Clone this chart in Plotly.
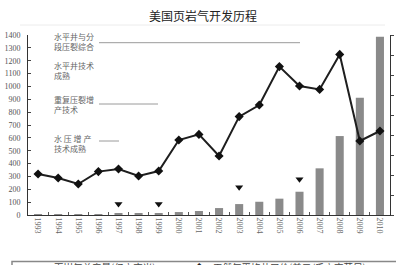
import plotly.graph_objects as go

years = [str(y) for y in range(1993, 2011)]
shale_output = [4, 5, 6, 7, 8, 9, 11, 23, 31, 54, 85, 103, 127, 181, 363, 614, 912, 1387]
gas_price = [2.05, 1.85, 1.55, 2.17, 2.30, 1.95, 2.20, 3.75, 4.03, 2.95, 4.92, 5.50, 7.42, 6.45, 6.28, 8.03, 3.70, 4.20]
milestone_years = ["1997", "1999", "2003", "2006"]
milestone_level = [86, 86, 215, 278]

W, H = 396, 265
L, R, T, B = 28, 6, 35, 50
PW, PH = W - L - R, H - T - B

def px(x):
    return (x - L) / PW

def py(y):
    return (H - B - y) / PH

CJK = "Noto Sans CJK SC"
SERIF = "Liberation Serif"

fig = go.Figure()
fig.add_trace(go.Bar(x=years, y=shale_output, marker=dict(color="#8a8a8a", line=dict(width=0)),
                     name="页岩气总产量(亿立方米)", yaxis="y"))
fig.add_trace(go.Scatter(x=years, y=gas_price, mode="lines+markers", yaxis="y2",
                         line=dict(color="#1e1e1e", width=2),
                         marker=dict(symbol="diamond", size=7, color="#111"),
                         name="天然气平均井口价(美元/千立方英尺)"))
fig.add_trace(go.Scatter(x=milestone_years, y=milestone_level, mode="markers", yaxis="y",
                         marker=dict(symbol="triangle-down", size=7, color="#111"), showlegend=False))

ann = []
def txt(x, y, s, size=8, color="#666", font=CJK, anchor="left"):
    ann.append(dict(x=px(x), y=py(y), xref="paper", yref="paper", text=s, showarrow=False,
                    xanchor=anchor, yanchor="middle", align="left",
                    font=dict(family=font, size=size, color=color)))

txt(W / 2 + 5, 16, "美国页岩气开发历程", size=12, color="#222", anchor="center")
txt(52, 42, "水平井与分<br>段压裂综合")
txt(52, 70, "水平井技术<br>成熟")
txt(52, 105, "重复压裂增<br>产技术")
txt(52, 143, "水 压 增 产<br>技术成熟")
txt(52, 267, "页岩气总产量(亿立方米)", size=9.5, color="#444")
txt(184, 267, "—◆—", size=9.5, color="#222")
txt(211, 267, "天然气平均井口价(美元/千立方英尺)", size=9.5, color="#444")

shapes = []
def hline(x0, x1, y, color="#9a9a9a", w=1):
    shapes.append(dict(type="line", xref="paper", yref="paper", x0=px(x0), x1=px(x1),
                       y0=py(y), y1=py(y), line=dict(color=color, width=w)))

hline(99, 300, 42.7)
hline(99, 158, 104)
hline(99, 119, 141)
hline(20, 385, 25, color="#ececec", w=1)
shapes.append(dict(type="rect", xref="paper", yref="paper", x0=px(12), x1=px(400),
                   y0=py(261.5), y1=py(280), line=dict(color="#888", width=1.5)))

fig.update_layout(
    width=W, height=H, margin=dict(l=L, r=R, t=T, b=B, autoexpand=False),
    paper_bgcolor="white", plot_bgcolor="white", showlegend=False,
    bargap=0.6, annotations=ann, shapes=shapes,
    xaxis=dict(type="category", range=[-0.5, 17.5], tickangle=90, showline=True,
               linecolor="#333", linewidth=1, ticks="inside", ticklen=3, tickcolor="#555",
               tickson="boundaries", showgrid=False,
               tickfont=dict(family=SERIF, size=8, color="#666")),
    yaxis=dict(range=[0, 1400], dtick=100, showline=True, linecolor="#333", linewidth=1,
               ticks="inside", ticklen=3, tickcolor="#444", showgrid=False, zeroline=False,
               ticklabelstandoff=5, tickfont=dict(family=SERIF, size=8, color="#555")),
    yaxis2=dict(range=[0, 9], dtick=1, overlaying="y", side="right", showline=True,
                linecolor="#333", linewidth=1, ticks="outside", ticklen=3, tickcolor="#444",
                showticklabels=False, showgrid=False, zeroline=False),
)

fig.write_html("out.html")
